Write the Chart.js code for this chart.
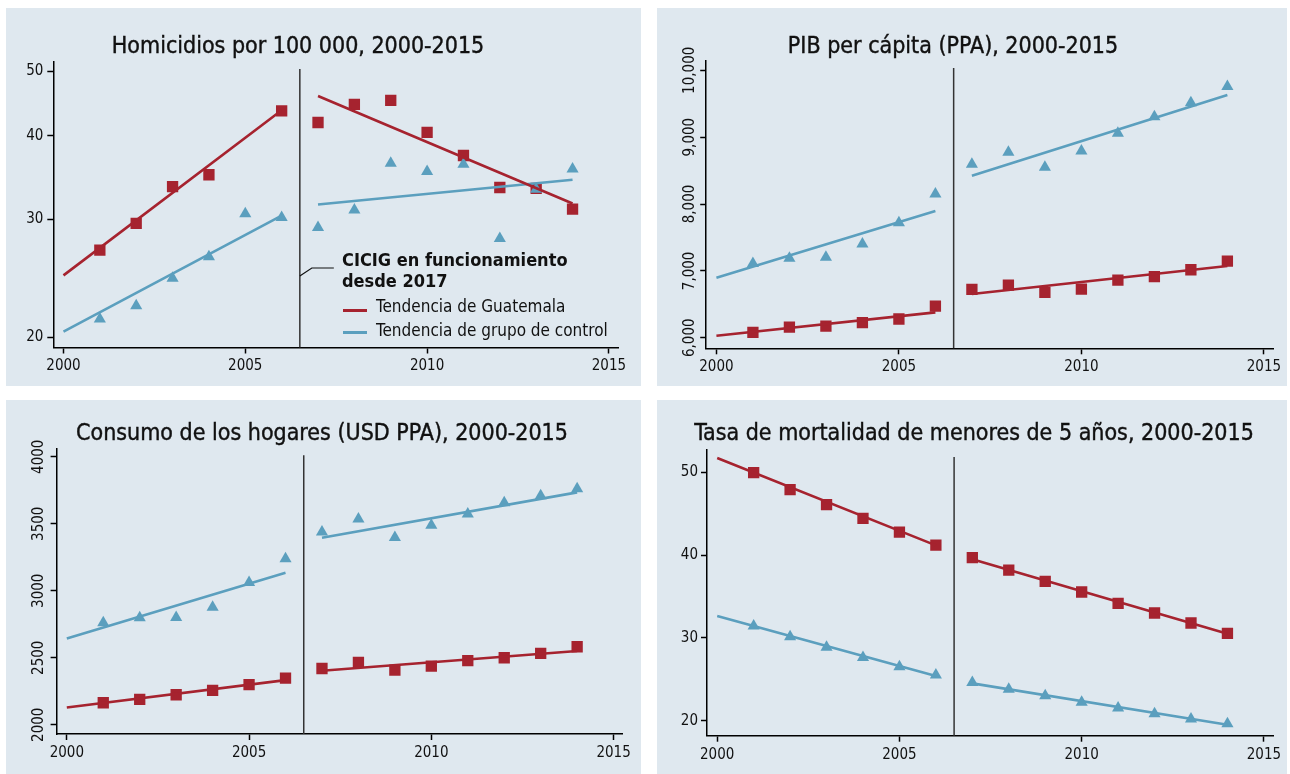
<!DOCTYPE html>
<html lang="es">
<head>
<meta charset="UTF-8">
<title>Guatemala y grupo de control, 2000-2015</title>
<script src="https://cdn.jsdelivr.net/npm/chart.js"></script>
<style>
  body { margin: 0; width: 1290px; height: 774px; background: #fff; position: relative; overflow: hidden;
         font-family: 'DejaVu Sans Condensed', 'Liberation Sans Narrow', sans-serif; color: #111; }
  .panel { position: absolute; background: #dfe8ef; }
  .panel canvas { position: absolute; left: 0; top: 0; }
  .titulo { position: absolute; width: 600px; text-align: center; font-size: 23px; font-weight: normal;
            line-height: 28px; white-space: nowrap; -webkit-text-stroke: 0.4px #111; }
  .nota { position: absolute; left: 336px; top: 242px; font-size: 18px; font-weight: bold; line-height: 20.7px;
          white-space: nowrap; }
  .item { position: absolute; left: 370px; font-size: 17px; line-height: 17px; white-space: nowrap; }
  .muestra { position: absolute; left: 337px; width: 24px; height: 3px; }
</style>
</head>
<body>

<div class="panel" style="left:6px; top:8px; width:635px; height:378px;">
  <canvas id="g1" width="635" height="378"></canvas>
  <div class="titulo" style="left:-8px; top:23px;">Homicidios por 100 000, 2000-2015</div>
  <div class="nota">CICIG en funcionamiento<br>desde 2017</div>
  <div class="muestra" style="top:301px; background:#a6232f;"></div>
  <div class="item" style="top:290px;">Tendencia de Guatemala</div>
  <div class="muestra" style="top:323px; background:#5b9fbe;"></div>
  <div class="item" style="top:314px;">Tendencia de grupo de control</div>
</div>
<div class="panel" style="left:657px; top:8px; width:630px; height:378px;">
  <canvas id="g2" width="630" height="378"></canvas>
  <div class="titulo" style="left:-4px; top:23px;">PIB per cápita (PPA), 2000-2015</div>
</div>
<div class="panel" style="left:6px; top:400px; width:635px; height:374px;">
  <canvas id="g3" width="635" height="374"></canvas>
  <div class="titulo" style="left:16px; top:18px;">Consumo de los hogares (USD PPA), 2000-2015</div>
</div>
<div class="panel" style="left:657px; top:400px; width:630px; height:374px;">
  <canvas id="g4" width="630" height="374"></canvas>
  <div class="titulo" style="left:17px; top:18px;">Tasa de mortalidad de menores de 5 años, 2000-2015</div>
</div>

<script>
  // Datos
  const anos = [2001, 2002, 2003, 2004, 2005, 2006, 2007, 2008, 2009, 2010, 2011, 2012, 2013, 2014];
  const anosTendencia = [2000, 2006, 2007, 2014];
  const ticksX = [2000, 2005, 2010, 2015];
  const corte = 2006.5;

  // Homicidios por 100 000 (escala log)
  const homGuatemala = [27.0, 29.6, 33.6, 35.0, null, 43.6, 41.9, 44.6, 45.2, 40.5, 37.4, 33.5, 33.4, 31.1];
  const homControl = [21.3, 22.3, 24.5, 26.4, 30.6, 30.2, 29.2, 31.0, 36.4, 35.4, 36.3, 28.1, 33.3, 35.7];
  const homTendGuatemala = [24.75, 43.7, 45.9, 31.7];
  const homTendControl = [20.4, 30.4, 31.6, 34.4];
  const homTicks = [20, 30, 40, 50];

  // PIB per cápita (PPA)
  const pibGuatemala = [6080, 6160, 6175, 6225, 6280, 6474, 6723, 6788, 6678, 6728, 6863, 6913, 7017, 7147];
  const pibControl = [7112, 7187, 7202, 7401, 7721, 8150, 8594, 8773, 8549, 8793, 9057, 9307, 9516, 9756];
  const pibTendGuatemala = [6030, 6379, 6653, 7072];
  const pibTendControl = [6898, 7895, 8424, 9631];
  const pibTicks = [6000, 7000, 8000, 9000, 10000];

  // Consumo de los hogares (USD PPA)
  const conGuatemala = [2164, 2189, 2224, 2256, 2299, 2348, 2420, 2465, 2408, 2438, 2478, 2500, 2532, 2582];
  const conControl = [2761, 2799, 2801, 2876, 3062, 3239, 3438, 3535, 3398, 3488, 3572, 3657, 3709, 3761];
  const conTendGuatemala = [2129, 2333, 2403, 2550];
  const conTendControl = [2644, 3134, 3396, 3734];
  const conTicks = [2000, 2500, 3000, 3500, 4000];

  // Mortalidad de menores de 5 años
  const morGuatemala = [49.96, 47.91, 46.10, 44.45, 42.79, 41.22, 39.69, 38.20, 36.83, 35.55, 34.18, 33.01, 31.80, 30.55];
  const morControl = [31.44, 30.15, 28.86, 27.65, 26.52, 25.52, 24.63, 23.79, 23.02, 22.22, 21.53, 20.85, 20.20, 19.64];
  const morTendGuatemala = [51.74, 41.18, 39.49, 30.51];
  const morTendControl = [32.65, 25.40, 24.51, 19.52];
  const morTicks = [20, 30, 40, 50];

  const rojo = '#a6232f';
  const azul = '#5b9fbe';
  const fuente = "'DejaVu Sans Condensed', 'Liberation Sans Narrow', sans-serif";

  const puntos = vals => anos.map((a, i) => ({ x: a, y: vals[i] }));
  const tendencia = vals => [
    { x: anosTendencia[0], y: vals[0] }, { x: anosTendencia[1], y: vals[1] },
    { x: corte, y: null },
    { x: anosTendencia[2], y: vals[2] }, { x: anosTendencia[3], y: vals[3] }
  ];

  // linea vertical en 2006.5
  const lineaCorte = {
    id: 'lineaCorte',
    beforeDatasetsDraw(chart) {
      const { ctx, chartArea } = chart;
      const x = chart.scales.x.getPixelForValue(corte);
      ctx.save();
      ctx.strokeStyle = '#333';
      ctx.lineWidth = 1.5;
      ctx.beginPath();
      ctx.moveTo(x, chartArea.top + 7);
      ctx.lineTo(x, chartArea.bottom);
      ctx.stroke();
      ctx.restore();
    }
  };

  // conector de la nota CICIG (solo primer panel)
  const conector = {
    id: 'conector',
    afterDraw(chart) {
      const { ctx } = chart;
      const x = chart.scales.x.getPixelForValue(corte);
      ctx.save();
      ctx.strokeStyle = '#111';
      ctx.lineWidth = 1.2;
      ctx.beginPath();
      ctx.moveTo(x, 268);
      ctx.lineTo(x + 12, 260);
      ctx.lineTo(x + 34, 260);
      ctx.stroke();
      ctx.restore();
    }
  };

  function crearPanel(id, p) {
    const series = [
      { type: 'line', data: tendencia(p.tendG), borderColor: rojo, borderWidth: 2.6, pointRadius: 0, order: 0 },
      { type: 'line', data: tendencia(p.tendC), borderColor: azul, borderWidth: 2.6, pointRadius: 0, order: 0 },
      { type: 'scatter', data: puntos(p.control), pointStyle: 'triangle', pointRadius: 7,
        backgroundColor: azul, pointBorderWidth: 0, order: 1 },
      { type: 'scatter', data: puntos(p.guate), pointStyle: 'rect', pointRadius: 8,
        backgroundColor: rojo, pointBorderWidth: 0, order: 2 }
    ];
    return new Chart(document.getElementById(id), {
      data: { datasets: series },
      options: {
        responsive: false,
        animation: false,
        layout: { padding: { top: p.arriba, right: p.derecha, left: 0, bottom: 0 } },
        plugins: { legend: { display: false }, title: { display: false }, tooltip: { enabled: false } },
        scales: {
          x: {
            type: 'linear', min: 1999.72, max: 2015.25,
            afterBuildTicks: s => { s.ticks = ticksX.map(v => ({ value: v })); },
            afterFit: s => { s.height = p.altoX; },
            grid: { drawOnChartArea: false, drawTicks: true, tickLength: 6, tickColor: '#000', tickWidth: 1.5 },
            border: { display: true, color: '#000', width: 1.5 },
            ticks: { color: '#111', font: { family: fuente, size: 15 }, padding: 4, autoSkip: false,
                     maxRotation: 0, callback: v => String(v) }
          },
          y: {
            type: p.tipo || 'linear', min: p.min, max: p.max,
            afterBuildTicks: s => { s.ticks = p.ticks.map(v => ({ value: v })); },
            afterFit: s => { s.width = p.anchoY; },
            grid: { drawOnChartArea: false, drawTicks: true, tickLength: 6, tickColor: '#000', tickWidth: 1.5 },
            border: { display: true, color: '#000', width: 1.5 },
            ticks: { color: '#111', font: { family: fuente, size: 15 }, padding: p.pad, autoSkip: false,
                     minRotation: p.rot, maxRotation: p.rot, crossAlign: p.rot ? 'center' : 'near',
                     callback: p.formato || (v => String(v)) }
          }
        }
      },
      plugins: p.extra ? [lineaCorte, p.extra] : [lineaCorte]
    });
  }

  crearPanel('g1', { guate: homGuatemala, control: homControl, tendG: homTendGuatemala, tendC: homTendControl,
    ticks: homTicks, tipo: 'logarithmic', min: 19.31, max: 51.6, rot: 0, pad: 4,
    arriba: 54, derecha: 23, anchoY: 47.3, altoX: 38.5, extra: conector });

  crearPanel('g2', { guate: pibGuatemala, control: pibControl, tendG: pibTendGuatemala, tendC: pibTendControl,
    ticks: pibTicks, min: 5842, max: 10139, rot: 90, pad: -14, formato: v => v.toLocaleString('en-US'),
    arriba: 53, derecha: 14, anchoY: 49.2, altoX: 37.7 });

  crearPanel('g3', { guate: conGuatemala, control: conControl, tendG: conTendGuatemala, tendC: conTendControl,
    ticks: conTicks, min: 1931, max: 4063, rot: 90, pad: -5.6,
    arriba: 48.3, derecha: 18.3, anchoY: 50.6, altoX: 40 });

  crearPanel('g4', { guate: morGuatemala, control: morControl, tendG: morTendGuatemala, tendC: morTendControl,
    ticks: morTicks, min: 18.19, max: 52.7, rot: 0, pad: 3,
    arriba: 50, derecha: 14, anchoY: 50, altoX: 38.3 });
</script>
</body>
</html>
